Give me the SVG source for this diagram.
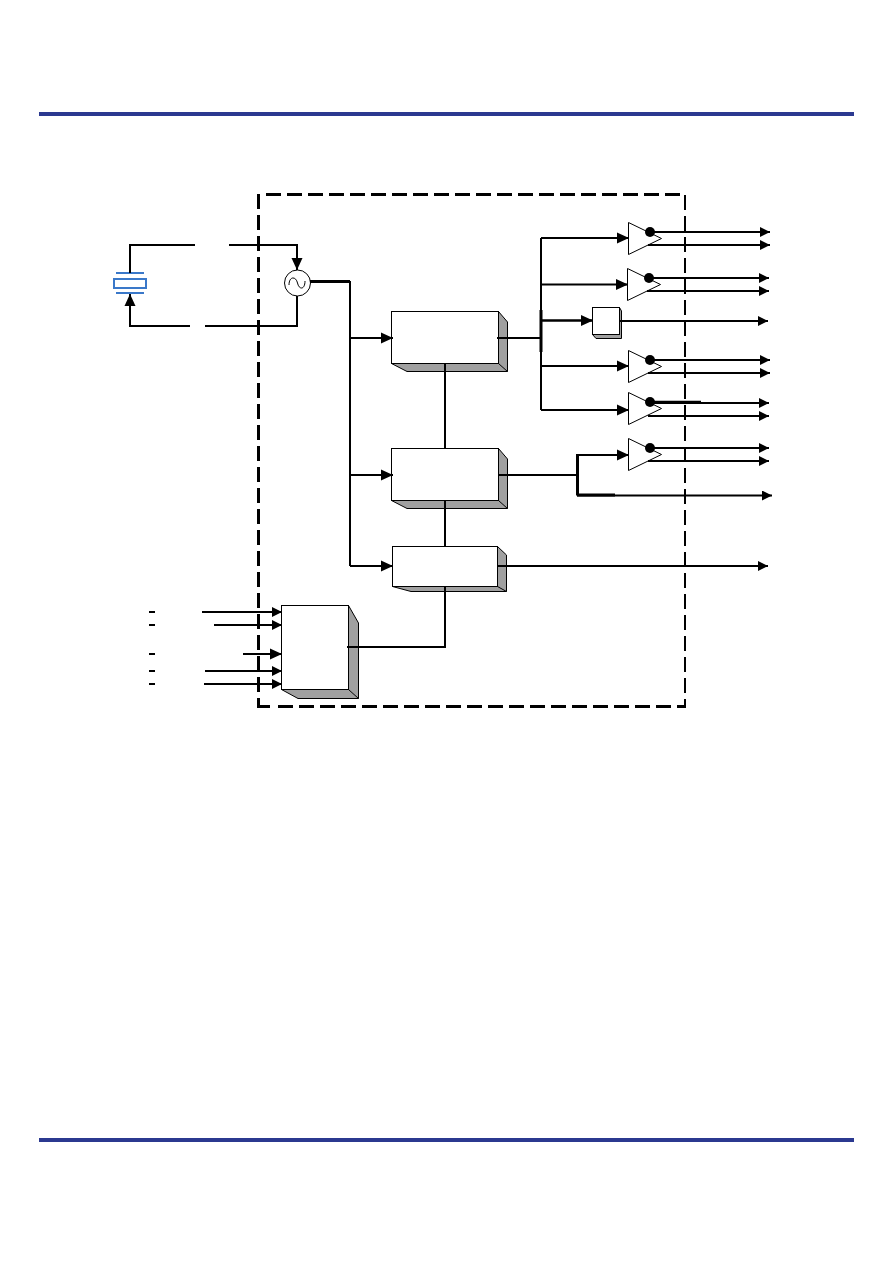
<svg xmlns="http://www.w3.org/2000/svg" width="892" height="1263" viewBox="0 0 892 1263">
<style>
.w{fill:none;stroke:#000;stroke-width:2}
.b{fill:#fff;stroke:#000;stroke-width:1}
.s{fill:#a0a0a0;stroke:#000;stroke-width:1}
.rule{fill:#2b3990}
.d{fill:none;stroke:#000;stroke-dasharray:15 6}
</style>
<defs>
<marker id="a" markerUnits="userSpaceOnUse" markerWidth="13" markerHeight="13" refX="12" refY="6" orient="auto"><path d="M0 0.500L12 6L0 11.500Z" fill="#000"/></marker>
<marker id="c" markerUnits="userSpaceOnUse" markerWidth="11" markerHeight="11" refX="10" refY="5" orient="auto"><path d="M0 0L10 5L0 10Z" fill="#000"/></marker>
<g id="tri"><path class="b" d="M0 0V32L33 16Z"/><circle cx="21.500" cy="9.500" r="5" fill="#000"/></g>
</defs>
<rect class="rule" x="39" y="112" width="815" height="4"/>
<rect class="rule" x="39" y="1138" width="815" height="4"/>
<g id="boundary">
<path class="d" stroke-width="3" d="M266 194.500H680"/>
<path class="d" stroke-width="2" d="M685 195V708"/>
<path class="d" stroke-width="3" d="M258.500 194V708"/>
<path class="d" stroke-width="3" d="M278 706.500H686"/>
<path d="M258 706.500H270" fill="none" stroke="#000" stroke-width="3"/>
</g>
<g id="crystal" fill="none" stroke="#3a78c9" stroke-width="2">
<rect x="114" y="279" width="32" height="9"/><path d="M116 273H144M116 293H144"/>
</g>
<g id="osc"><circle cx="297.500" cy="283" r="13" fill="#fff" stroke="#000"/><path d="M289 285C289 276 296 276 297.500 283C299 290 305 290 305 281" fill="none" stroke="#000"/></g>
<g id="block1"><path class="s" d="M391.500 363.500L407 371.500H507.500V322L498.500 311.500V363.500Z"/><rect class="b" x="391.500" y="311.500" width="107" height="52"/><path d="M498.500 363.500L507.500 371.500" stroke="#000"/></g>
<g id="block2"><path class="s" d="M391.500 500.500L407 508.500H507.500V459L498.500 448.500V500.500Z"/><rect class="b" x="391.500" y="448.500" width="107" height="52"/><path d="M498.500 500.500L507.500 508.500" stroke="#000"/></g>
<g id="block3"><path class="s" d="M392.500 586.500L411 591.500H506.500V555L497.500 546.500V586.500Z"/><rect class="b" x="392.500" y="546.500" width="105" height="40"/><path d="M497.500 586.500L506.500 591.500" stroke="#000"/></g>
<g id="block4"><path class="s" d="M281.500 689.500L298 698.500H358.500V623L348.500 605.500V689.500Z"/><rect class="b" x="281.500" y="605.500" width="67" height="84"/><path d="M348.500 689.500L358.500 698.500" stroke="#000"/></g>
<g id="block5"><path class="s" d="M592.500 334.500L596 338.500H621.500V311L619.500 307.500V334.500Z"/><rect class="b" x="592.500" y="307.500" width="27" height="27"/></g>
<g id="buf1"><use href="#tri" x="628.500" y="222.500"/></g>
<g id="buf2"><use href="#tri" x="627.500" y="268.500"/></g>
<g id="buf3"><use href="#tri" x="628.500" y="350.500"/></g>
<g id="buf4"><use href="#tri" x="628.500" y="392.500"/></g>
<g id="buf5"><use href="#tri" x="628.500" y="438.500"/></g>
<g id="connectors">
<path class="w" d="M130 273V245H195M229 245H297V270" marker-end="url(#a)"/>
<path class="w" d="M297 296V326H205M190 326H130V294" marker-end="url(#a)"/>
<path class="w" d="M310 281.500H350" style="stroke-width:3"/>
<path class="w" d="M350 281V566"/>
<path class="w" d="M350 338H393" marker-end="url(#a)"/>
<path class="w" d="M350 475H393" marker-end="url(#a)"/>
<path class="w" d="M350 566H393" marker-end="url(#a)"/>
<path class="w" d="M445 363V448M445 500V546M445 586V647H347"/>
<path class="w" d="M497 338H541"/>
<path class="w" d="M541 238V410"/>
<path class="w" d="M541 310V352" style="stroke-width:3"/>
<path class="w" d="M541 238H629" marker-end="url(#a)"/>
<path class="w" d="M541 284.500H628" marker-end="url(#a)"/>
<path class="w" d="M541 320.500H593" marker-end="url(#a)" style="stroke-width:2.500"/>
<path class="w" d="M541 366H629" marker-end="url(#a)"/>
<path class="w" d="M541 410H629" marker-end="url(#a)"/>
<path class="w" d="M498 475H578"/>
<path class="w" d="M577.500 454V495.500" style="stroke-width:3"/>
<path class="w" d="M577 455H629" marker-end="url(#a)"/>
<path class="w" d="M577 495.500H772" marker-end="url(#c)"/>
<path class="w" d="M577 495H615" style="stroke-width:3"/>
<path class="w" d="M497 566H768" marker-end="url(#c)"/>
<path class="w" d="M650 232H770" marker-end="url(#c)"/>
<path class="w" d="M648 245H770" marker-end="url(#c)"/>
<path class="w" d="M649 278H769" marker-end="url(#c)"/>
<path class="w" d="M647 291H769" marker-end="url(#c)"/>
<path class="w" d="M620 321H768" marker-end="url(#c)"/>
<path class="w" d="M650 360H770" marker-end="url(#c)"/>
<path class="w" d="M648 373H770" marker-end="url(#c)"/>
<path class="w" d="M650 403H769" marker-end="url(#c)"/>
<path class="w" d="M650 402H701" style="stroke-width:2.500"/>
<path class="w" d="M648 416H769" marker-end="url(#c)"/>
<path class="w" d="M650 448H769" marker-end="url(#c)"/>
<path class="w" d="M648 461H769" marker-end="url(#c)"/>
<path class="w" d="M202 612H282" marker-end="url(#c)"/>
<path class="w" d="M214 625H282" marker-end="url(#c)"/>
<path class="w" d="M243 654H282" marker-end="url(#a)"/>
<path class="w" d="M205 671H282" marker-end="url(#c)"/>
<path class="w" d="M204 684H282" marker-end="url(#c)"/>
<path class="w" d="M149 612H155M149 625H155M149 654H155M149 671H155M149 684H155"/>
</g>
</svg>
